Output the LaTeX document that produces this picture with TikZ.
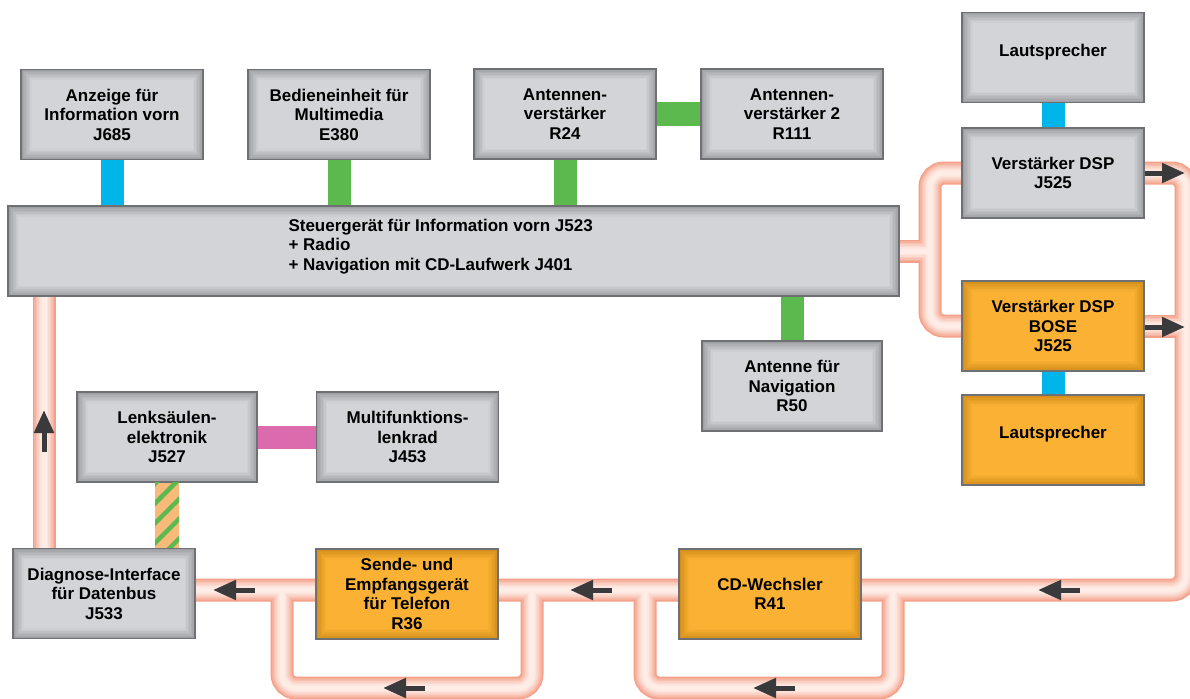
\documentclass[tikz,border=0pt]{standalone}
\usepackage{fontspec}
\setmainfont{Liberation Sans}
\usepackage{xcolor}
\usepackage{tikz}
\usetikzlibrary{arrows.meta, calc, backgrounds, patterns.meta}

\definecolor{greyfill}{HTML}{D3D4D8}
\definecolor{greyedge}{HTML}{9FA0A4}
\definecolor{orangefill}{HTML}{FBB234}
\definecolor{orangeedge}{HTML}{D48F1C}
\definecolor{boxline}{HTML}{6F7073}
\definecolor{canblue}{HTML}{00B5E9}
\definecolor{cangreen}{HTML}{5CB94E}
\definecolor{canpink}{HTML}{DC6BAE}
\definecolor{diagorange}{HTML}{F8BA78}
\definecolor{tubeout}{HTML}{F4A088}
\definecolor{tubein}{HTML}{FEEDE7}
\definecolor{arrowgrey}{HTML}{3A3A3C}

\begin{document}
\begin{tikzpicture}[x=1pt, y=-1pt,
  every node/.style={font=\fontsize{17}{19.5}\selectfont\bfseries},
  unit/.style 2 args={draw=boxline, line width=1.2pt, fill=#2, minimum width=182pt, minimum height=90pt,
    align=center, inner sep=0pt,
    path picture={\foreach \d/\p in {1.5pt/15,3pt/30,4.5pt/45,6pt/60,7.5pt/75,9pt/90,10.5pt/100}
      \fill[#1!\p!#2] ($(path picture bounding box.north west)+(\d,-\d)$) rectangle ($(path picture bounding box.south east)+(-\d,\d)$);}},
  greybox/.style={unit={greyfill}{greyedge}},
  orangebox/.style={unit={orangefill}{orangeedge}},
  bar/.style={line width=23pt},
  flow/.style={arrowgrey, line width=5pt, -{Triangle[length=23pt, width=19pt]}}]

  \useasboundingbox (0,0) rectangle (1190,698);

  \node[greybox] (anz) at (112,114.5) {Anzeige für\\Information vorn\\J685};
  \node[greybox] (bed) at (339,114.5) {Bedieneinheit für\\Multimedia\\E380};
  \node[greybox] (ant1) at (565,114) {Antennen-\\verstärker\\R24};
  \node[greybox] (ant2) at (792,114) {Antennen-\\verstärker 2\\R111};

  \node[greybox, minimum width=891pt] (steuer) at (453.5,251) {};
  \node[anchor=west, align=left] (steuertext) at (285,246.5) {Steuergerät für Information vorn J523\\+ Radio\\+ Navigation mit CD-Laufwerk J401};

  \node[greybox, text depth=14pt] (lt1) at (1053,57.5) {Lautsprecher};
  \node[greybox] (dsp) at (1053,173) {Verstärker DSP\\J525};
  \node[orangebox] (bose) at (1053,326) {Verstärker DSP\\BOSE\\J525};
  \node[orangebox, text depth=16pt] (lt2) at (1053,440) {Lautsprecher};

  \node[greybox, minimum width=180pt] (antnav) at (792,386) {Antenne für\\Navigation\\R50};
  \node[greybox, minimum width=180pt] (lenk) at (167,437) {Lenksäulen-\\elektronik\\J527};
  \node[greybox] (mfl) at (407.5,437) {Multifunktions-\\lenkrad\\J453};

  \node[greybox] (diag) at (104,593.5) {Diagnose-Interface\\für Datenbus\\J533};
  \node[orangebox] (tel) at (407,594) {Sende- und\\Empfangsgerät\\für Telefon\\R36};
  \node[orangebox] (cd) at (770,594) {CD-Wechsler\\R41};

  \coordinate (busy) at (0,590);
  \coordinate (lb) at (0,688);
  \coordinate (rc) at (1186,0);
  \coordinate (bk) at (930,0);
  \coordinate (lv) at (44,0);
  \coordinate (tl) at (282,0);
  \coordinate (tr) at (532,0);
  \coordinate (cl) at (645,0);
  \coordinate (cr) at (893,0);

  \draw[bar, canblue] (anz.south) -- (anz.south |- steuer.north);
  \draw[bar, cangreen] (bed.south) -- (bed.south |- steuer.north);
  \draw[bar, cangreen] (ant1.south) -- (ant1.south |- steuer.north);
  \draw[bar, cangreen] (ant1.east) -- (ant2.west);
  \draw[bar, cangreen] (antnav.north) -- (antnav.north |- steuer.south);
  \draw[bar, canblue] (lt1.south) -- (dsp.north);
  \draw[bar, canblue] (bose.south) -- (lt2.north);
  \draw[bar, canpink] (lenk.east) -- (mfl.west);
  \fill[diagorange] ($(lenk.south)+(-12,0)$) rectangle ($(lenk.south |- diag.north)+(12,0)$);
  \fill[pattern={Lines[angle=45, distance=14pt, line width=4.5pt]}, pattern color=cangreen]
    ($(lenk.south)+(-12,0)$) rectangle ($(lenk.south |- diag.north)+(12,0)$);

  \begin{scope}[on background layer]
    \foreach \w/\p in {23pt/0, 20pt/22, 17pt/42, 14pt/60, 11pt/75, 8pt/88, 5pt/100}{
      \begin{scope}[draw=tubein!\p!tubeout, line width=\w]
        \draw[rounded corners=14pt] (diag.east |- busy) -- (rc |- busy) -- (rc |- dsp.east) -- (dsp.east);
        \draw (bose.east) -- (rc |- bose.east);
        \draw[rounded corners=14pt] (dsp.west) -- (bk |- dsp.west) -- (bk |- bose.west) -- (bose.west);
        \draw (steuer.east) -- (bk |- steuer.east);
        \draw (lv |- steuer.south) -- (lv |- diag.north);
        \draw[rounded corners=14pt] (tl |- busy) -- (tl |- lb) -- (tr |- lb) -- (tr |- busy);
        \draw[rounded corners=14pt] (cl |- busy) -- (cl |- lb) -- (cr |- lb) -- (cr |- busy);
      \end{scope}
    }
  \end{scope}

  \foreach \x/\y/\dx/\dy in {44/452/0/-42, 255/590/-42/0, 612/590/-42/0, 1080/590/-42/0,
      425/688/-42/0, 795/688/-42/0, 1145/173/40/0, 1145/327/40/0}
    \draw[flow] (\x,\y) -- ++(\dx,\dy);
\end{tikzpicture}
\end{document}
